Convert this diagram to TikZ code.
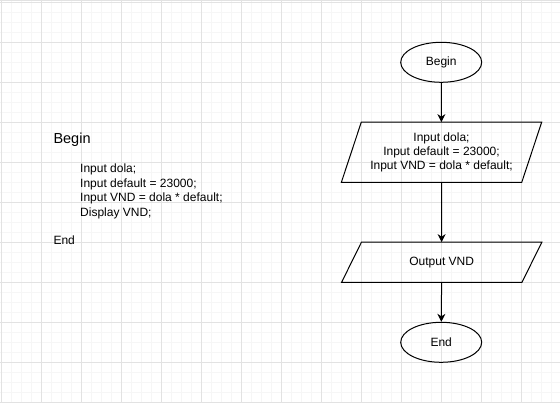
\documentclass[tikz,border=0pt]{standalone}
\usepackage{fontspec}
\setmainfont{Liberation Sans}
\usetikzlibrary{shapes.geometric,arrows.meta}
\definecolor{gridminor}{HTML}{F6F6F6}
\definecolor{gridmajor}{HTML}{E2E2E2}
\begin{document}
\begin{tikzpicture}[x=1pt,y=-1pt,
  minorline/.style={draw=gridminor,line width=1pt},
  majorline/.style={draw=gridmajor,line width=1pt},
  term/.style={ellipse,draw,line width=1pt,minimum width=81pt,minimum height=40pt,inner sep=0pt,font=\fontsize{12}{14}\selectfont},
  io/.style={rectangle,minimum width=180pt,inner sep=0pt,align=center,font=\fontsize{12}{14}\selectfont},
  ioshape/.style={draw,line width=1pt,line join=miter},
  arr/.style={-{Stealth[length=8pt,width=8pt]},line width=1pt},
  code/.style={anchor=base west,inner sep=0pt,font=\fontsize{12}{14}\selectfont},
  codehead/.style={anchor=base west,inner sep=0pt,font=\fontsize{14.5}{17}\selectfont}]
\useasboundingbox (0,0) rectangle (560,403);
\fill[white] (0,0) rectangle (560,403);
% grid
\foreach \x in {1.5,11.5,...,560} \draw[minorline] (\x,0) -- (\x,403);
\foreach \y in {2.5,12.5,...,403} \draw[minorline] (0,\y) -- (560,\y);
\foreach \x in {1.5,41.5,...,560} \draw[majorline] (\x,0) -- (\x,403);
\foreach \y in {2.5,42.5,...,403} \draw[majorline] (0,\y) -- (560,\y);
\draw[draw=gridmajor,line width=1.5pt] (0,0.75) -- (560,0.75);
% pseudo code
\node[codehead] (cbegin) at (53.3,143.3) {Begin};
\node[code] (c1) at (80,172.7) {Input dola;};
\node[code] (c2) at (80,187.4) {Input default = 23000;};
\node[code] (c3) at (80,202.0) {Input VND = dola * default;};
\node[code] (c4) at (80,216.7) {Display VND;};
\node[code] (cend) at (53.3,244.3) {End};
% flowchart
\node[term] (b) at (441.2,62.3) {Begin};
\node[io,minimum height=60pt] (p1) at (441.5,152.3) {Input dola;\\Input default = 23000;\\Input VND = dola * default;};
\node[io,minimum height=40pt] (p2) at (441.7,262.3) {Output VND};
\node[term] (e) at (441.2,342.3) {End};
\draw[ioshape] ([xshift=10pt]p1.north west) -- ([xshift=10pt]p1.north east) -- ([xshift=-10pt]p1.south east) -- ([xshift=-10pt]p1.south west) -- cycle;
\draw[ioshape] ([xshift=10pt]p2.north west) -- ([xshift=10pt]p2.north east) -- ([xshift=-10pt]p2.south east) -- ([xshift=-10pt]p2.south west) -- cycle;
\draw[arr] (b) -- (p1);
\draw[arr] (p1) -- (p2);
\draw[arr] (p2) -- (e);
\end{tikzpicture}
\end{document}
